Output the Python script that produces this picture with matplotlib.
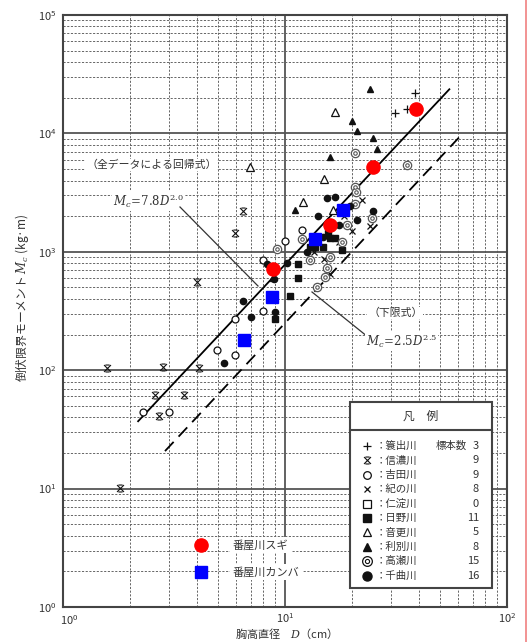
import numpy as np
import matplotlib
matplotlib.use("Agg")
import matplotlib.pyplot as plt
import matplotlib.transforms as mtransforms
from matplotlib.path import Path
from matplotlib.lines import Line2D
from matplotlib.patches import Rectangle

plt.rcParams['font.family'] = ['Noto Sans CJK JP', 'DejaVu Sans']
plt.rcParams['mathtext.fontset'] = 'dejavuserif'

# ---- data (D in cm, Mc in kg*m) ----
rivers = ["簑出川", "信濃川", "吉田川", "紀の川", "仁淀川", "日野川", "音更川", "利別川", "高瀬川", "千曲川"]
counts = [3, 9, 9, 8, 0, 11, 5, 8, 15, 16]

D_plus = [38.5, 31.3, 35.5]
M_plus = [21900, 14900, 16100]

D_shinano = [1.81, 1.58, 2.82, 4.10, 2.60, 3.51, 2.71, 4.01, 5.96, 6.47]
M_shinano = [10.1, 104, 106, 104, 62, 62, 41, 556, 1440, 2210]

D_yoshida = [3.0, 4.94, 5.96, 5.96, 7.96, 7.96, 10.0, 11.9, 2.3]
M_yoshida = [44, 148, 134, 271, 316, 850, 1230, 1530, 44]

D_kino = [22.2, 24.1, 15.0, 13.5, 17.5, 20.0, 16.0, 18.5]
M_kino = [2740, 1650, 870, 1000, 1200, 1500, 650, 2000]

D_hino = [15.6, 15.9, 16.8, 13.0, 13.6, 14.8, 18.1, 11.4, 11.4, 9.0, 10.5]
M_hino = [1440, 1310, 1310, 1100, 1100, 1100, 1035, 790, 601, 270, 420]

D_otofuke = [16.8, 6.95, 15.0, 12.1, 16.5]
M_otofuke = [15200, 5200, 4100, 2640, 2250]

D_toshibetsu = [24.1, 20.0, 21.1, 24.9, 25.9, 15.9, 11.1, 8.83]
M_toshibetsu = [23700, 12700, 10500, 9100, 7400, 6300, 2250, 601]

D_takase = [20.7, 35.5, 20.7, 20.9, 20.7, 24.7, 11.9, 9.2, 15.5, 15.1, 14.0, 16.0, 18.0, 19.0, 13.0]
M_takase = [6800, 5400, 3500, 3200, 2530, 1930, 1280, 1060, 730, 612, 500, 900, 1200, 1700, 850]

D_chikuma = [15.5, 16.8, 19.6, 24.9, 14.1, 21.1, 14.8, 8.3, 10.2, 8.92, 6.47, 7.03, 9.02, 5.31, 12.5, 17.5]
M_chikuma = [2850, 2900, 2440, 2210, 2010, 1860, 1330, 790, 800, 590, 384, 281, 310, 115, 1000, 1700]

D_sugi = [38.9, 24.9, 15.9, 8.83]
M_sugi = [16070, 5200, 1683, 716]

D_kanba = [18.3, 13.6, 8.74, 6.54]
M_kanba = [2254, 1282, 415, 180]

# regression lines
reg_a, reg_b, reg_range = 7.8, 2.0, (2.18, 55.0)
low_a, low_b, low_range = 2.5, 2.0, (2.88, 62.0)

# ---- figure ----
fig = plt.figure(figsize=(5.28, 6.42), dpi=100)
ax = fig.add_axes([63/528, 35/642, 444/528, 592/642])
ax.set_xscale('log')
ax.set_yscale('log')
ax.set_xlim(1, 100)
ax.set_ylim(1, 1e5)

ax.grid(which='major', color='#555555', lw=1.3, ls='-')
ax.grid(which='minor', color='#666666', lw=0.7, ls=(0, (2.2, 1.6)))
ax.set_axisbelow(True)
for s in ax.spines.values():
    s.set_color('#444444')
    s.set_linewidth(1.5)
ax.tick_params(which='both', length=0, labelsize=8, colors='#333333')
ax.tick_params(axis='x', pad=3)
ax.tick_params(axis='y', pad=5)
ax.set_xticks([1, 10, 100])
ax.set_yticks([1, 10, 100, 1000, 1e4, 1e5])

# lines
Dr = np.geomspace(*reg_range, 50)
ax.plot(Dr, reg_a * Dr**reg_b, color='black', lw=1.3, zorder=3)
Dl = np.geomspace(*low_range, 50)
ax.plot(Dl, low_a * Dl**low_b, color='black', lw=1.3, ls=(0, (7, 4)), zorder=3)

shinano_marker = Path([(-1, -1), (1, 1), (-1, 1), (1, -1), (-0.6, 1), (0.6, 1), (-0.6, -1), (0.6, -1)],
                      [Path.MOVETO, Path.LINETO, Path.MOVETO, Path.LINETO,
                       Path.MOVETO, Path.LINETO, Path.MOVETO, Path.LINETO])

k = '#111111'
ms = 4.5
ax.plot(D_plus, M_plus, ls='none', marker='+', ms=6, mew=0.9, color=k, zorder=4)
ax.plot(D_shinano, M_shinano, ls='none', marker=shinano_marker, ms=5, mew=0.8, color=k, mfc='none', zorder=4)
ax.plot(D_yoshida, M_yoshida, ls='none', marker='o', ms=5, mew=0.9, mec=k, mfc='white', zorder=4)
ax.plot(D_kino, M_kino, ls='none', marker='x', ms=4.5, mew=0.9, color=k, zorder=4)
ax.plot(D_hino, M_hino, ls='none', marker='s', ms=ms, color=k, zorder=4)
ax.plot(D_otofuke, M_otofuke, ls='none', marker='^', ms=6, mew=0.9, mec=k, mfc='white', zorder=4)
ax.plot(D_toshibetsu, M_toshibetsu, ls='none', marker='^', ms=ms, color=k, zorder=4)
ax.plot(D_takase, M_takase, ls='none', marker='o', ms=6, mew=0.9, mec='#555555', mfc='white', zorder=4)
ax.plot(D_takase, M_takase, ls='none', marker='o', ms=2.5, mew=0.8, mec='#555555', mfc='white', zorder=4)
ax.plot(D_chikuma, M_chikuma, ls='none', marker='o', ms=ms, color=k, zorder=4)
ax.plot(D_sugi, M_sugi, ls='none', marker='o', ms=9.5, color='#ff0000', zorder=5)
ax.plot(D_kanba, M_kanba, ls='none', marker='s', ms=8.5, color='#0000ff', zorder=5)

# annotations
tc = '#333333'
def fx(px): return (px - 63) / 444
def fy(py): return (607 - py) / 592

ax.text(fx(86), fy(165), "（全データによる回帰式）", transform=ax.transAxes, fontsize=7.8,
        color=tc, va='center', ha='left', bbox=dict(fc='white', ec='none', pad=0.5), zorder=6)
ax.text(fx(113), fy(201), r"$M_c\!=\!7.8D^{2.0}$", transform=ax.transAxes, fontsize=8.5,
        color=tc, va='center', ha='left', bbox=dict(fc='white', ec='none', pad=0.5), zorder=6)
ax.plot([fx(180), fx(258)], [fy(207), fy(286)], transform=ax.transAxes, color='#333333', lw=0.9, zorder=6)
ax.plot([fx(312), fx(368)], [fy(292), fy(337)], transform=ax.transAxes, color='#333333', lw=0.9, zorder=6)
ax.text(fx(368), fy(313), "（下限式）", transform=ax.transAxes, fontsize=7.8,
        color=tc, va='center', ha='left', bbox=dict(fc='white', ec='none', pad=0.5), zorder=6)
ax.text(fx(366), fy(341), r"$M_c\!=\!2.5D^{2.5}$", transform=ax.transAxes, fontsize=8.5,
        color=tc, va='center', ha='left', bbox=dict(fc='white', ec='none', pad=0.5), zorder=6)

# red / blue legend
ax.plot([fx(201)], [fy(545)], transform=ax.transAxes, marker='o', ms=9.5, color='#ff0000', zorder=7)
ax.plot([fx(201)], [fy(572)], transform=ax.transAxes, marker='s', ms=8.5, color='#0000ff', zorder=7)
ax.text(fx(233), fy(545), "番屋川スギ", transform=ax.transAxes, fontsize=8, color=tc, va='center',
        bbox=dict(fc='white', ec='none', pad=2), zorder=6)
ax.text(fx(233), fy(572), "番屋川カンバ", transform=ax.transAxes, fontsize=8, color=tc, va='center',
        bbox=dict(fc='white', ec='none', pad=2), zorder=6)

# legend box
ax.add_patch(Rectangle((fx(350), fy(588)), fx(492) - fx(350), fy(402) - fy(588), transform=ax.transAxes,
                       fc='white', ec='#444444', lw=1.5, zorder=8))
ax.plot([fx(350), fx(492)], [fy(430), fy(430)], transform=ax.transAxes, color='#444444', lw=1.5, zorder=9)
ax.text(fx(421), fy(416), "凡　例", transform=ax.transAxes, fontsize=8.5, color=tc,
        ha='center', va='center', zorder=9)
leg_markers = [dict(marker='+', ms=6, mew=0.9, color=k),
               dict(marker=shinano_marker, ms=5, mew=0.8, color=k, mfc='none'),
               dict(marker='o', ms=5.5, mew=0.9, mec=k, mfc='white'),
               dict(marker='x', ms=5, mew=0.9, color=k),
               dict(marker='s', ms=6, mew=0.9, mec=k, mfc='white'),
               dict(marker='s', ms=6, color=k),
               dict(marker='^', ms=6, mew=0.9, mec=k, mfc='white'),
               dict(marker='^', ms=6, color=k),
               dict(marker='o', ms=7, mew=0.9, mec=k, mfc='white'),
               dict(marker='o', ms=6.5, color=k)]
for i, (name, cnt, mk) in enumerate(zip(rivers, counts, leg_markers)):
    y = fy(446 + 14.4 * i)
    ax.plot([fx(367)], [y], transform=ax.transAxes, ls='none', zorder=10, **mk)
    if i == 8:
        ax.plot([fx(367)], [y], transform=ax.transAxes, ls='none', marker='o', ms=3, mew=0.8,
                mec=k, mfc='white', zorder=11)
    ax.text(fx(376), y, "：" + name, transform=ax.transAxes, fontsize=7.5, color=tc,
            ha='left', va='center', zorder=10)
    if i == 0:
        ax.text(fx(436), y, "標本数", transform=ax.transAxes, fontsize=7.5, color=tc,
                ha='left', va='center', zorder=10)
    ax.text(fx(479), y, str(cnt), transform=ax.transAxes, fontsize=8, color=tc,
            ha='right', va='center', zorder=10)

# axis labels
fig.text(22/528, 1 - 298/642, r"倒伏限界モーメント $M_c$ (kg·m)", rotation=90, fontsize=8.5,
         color=tc, ha='center', va='center', family=['Noto Sans CJK JP', 'DejaVu Sans'])
fig.text(283/528, 1 - 634/642, r"胸高直径　$D$（cm）", fontsize=8, color=tc, ha='center', va='center')

# nudge the corner x tick label so it clears the y-axis 10^0 label (as in the scan)
fig.canvas.draw()
xlabels = ax.get_xticklabels()
if xlabels:
    xlabels[0].set_transform(xlabels[0].get_transform() +
                             mtransforms.ScaledTranslation(6/100, -2/100, fig.dpi_scale_trans))

# right border line of the scan
fig.add_artist(Line2D([526/528, 526/528], [0, 1], color='#f08080', lw=1.2))

fig.savefig("out.png", dpi=100)
